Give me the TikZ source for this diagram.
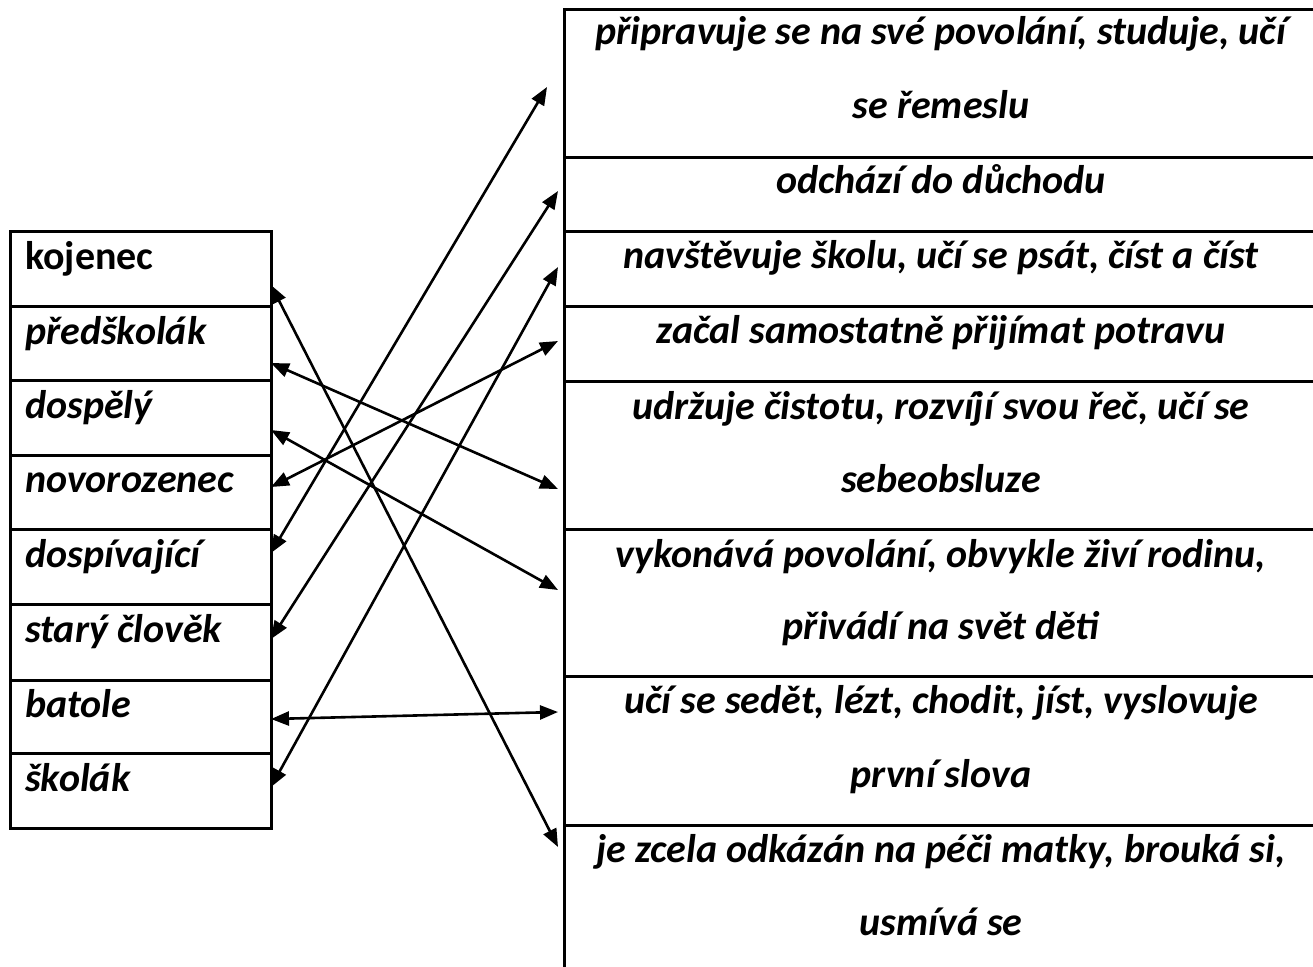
\documentclass[tikz,border=0pt]{standalone}
\usepackage{fontspec}
\setmainfont{Carlito}
\usetikzlibrary{arrows.meta}

\tikzset{
  tabline/.style={line width=3pt},
  pairarrow/.style={line width=2.6pt, {Triangle[length=18pt,width=14pt]}-{Triangle[length=18pt,width=14pt]}},
  stage/.style={anchor=base west, inner sep=0pt, font=\fontsize{40}{48}\selectfont\bfseries\itshape},
  trait/.style={anchor=base, inner sep=0pt, font=\fontsize{40}{48}\selectfont\bfseries\itshape},
}

\begin{document}
\begin{tikzpicture}[x=1pt,y=-1pt]
		%%%%% START %%%%%
		\useasboundingbox (0,0) rectangle (1313,966);
		
		% left table
		\draw[tabline] (10,231.7) rectangle (271,828.3);
		\draw[tabline] (10,306.7) -- (271,306.7);
		\draw[tabline] (10,380.7) -- (271,380.7);
		\draw[tabline] (10,455.7) -- (271,455.7);
		\draw[tabline] (10,529.3) -- (271,529.3);
		\draw[tabline] (10,604.3) -- (271,604.3);
		\draw[tabline] (10,680) -- (271,680);
		\draw[tabline] (10,753.3) -- (271,753.3);
		
		% right table (runs past the page edge)
		\draw[tabline] (564.3,975) -- (564.3,10) -- (1318,10) -- (1318,975);
		\draw[tabline] (564.3,157.7) -- (1318,157.7);
		\draw[tabline] (564.3,231.7) -- (1318,231.7);
		\draw[tabline] (564.3,306.7) -- (1318,306.7);
		\draw[tabline] (564.3,381.7) -- (1318,381.7);
		\draw[tabline] (564.3,529) -- (1318,529);
		\draw[tabline] (564.3,676.7) -- (1318,676.7);
		\draw[tabline] (564.3,825) -- (1318,825);
		
		% stages
		\node[stage, font=\fontsize{40}{48}\selectfont\bfseries] (kojenec) at (25,269) {kojenec};
		\node[stage] (predskolak) at (25,344) {předškolák};
		\node[stage] (dospely) at (25,418) {dospělý};
		\node[stage] (novorozenec) at (25,492) {novorozenec};
		\node[stage] (dospivajici) at (25,567) {dospívající};
		\node[stage] (stary) at (25,642) {starý člověk};
		\node[stage] (batole) at (25,717) {batole};
		\node[stage] (skolak) at (25,791) {školák};
		
		% traits
		\node[trait] (priprava) at (941,45) {připravuje se na své povolání, studuje, učí};
		\node[trait] (priprava2) at (941,118) {se řemeslu};
		\node[trait] (duchod) at (941,193) {odchází do důchodu};
		\node[trait] (skola) at (941,268) {navštěvuje školu, učí se psát, číst a číst};
		\node[trait] (potrava) at (941,343) {začal samostatně přijímat potravu};
		\node[trait] (cistota) at (941,419) {udržuje čistotu, rozvíjí svou řeč, učí se};
		\node[trait] (cistota2) at (941,492) {sebeobsluze};
		\node[trait] (povolani) at (941,567) {vykonává povolání, obvykle živí rodinu,};
		\node[trait] (povolani2) at (941,639) {přivádí na svět děti};
		\node[trait] (sedeni) at (941,713) {učí se sedět, lézt, chodit, jíst, vyslovuje};
		\node[trait] (sedeni2) at (941,787) {první slova};
		\node[trait] (matka) at (941,862) {je zcela odkázán na péči matky, brouká si,};
		\node[trait] (matka2) at (941,935) {usmívá se};
		
		% arrow ends
		\coordinate (kojenecR) at (271,285);
		\coordinate (predskolakR) at (271,363);
		\coordinate (dospelyR) at (271,430);
		\coordinate (novorozenecR) at (271,487);
		\coordinate (dospivajiciR) at (271,553);
		\coordinate (staryR) at (271,639);
		\coordinate (batoleR) at (271,719);
		\coordinate (skolakR) at (271,787);
		\coordinate (pripravaL) at (547,87);
		\coordinate (duchodL) at (558,191);
		\coordinate (skolaL) at (558,267);
		\coordinate (potravaL) at (558,341);
		\coordinate (cistotaL) at (558,489);
		\coordinate (povolaniL) at (558,590);
		\coordinate (sedeniL) at (558,712);
		\coordinate (matkaL) at (558,847);
		
		\draw[pairarrow] (kojenecR) -- (matkaL);
		\draw[pairarrow] (predskolakR) -- (cistotaL);
		\draw[pairarrow] (dospelyR) -- (povolaniL);
		\draw[pairarrow] (novorozenecR) -- (potravaL);
		\draw[pairarrow] (dospivajiciR) -- (pripravaL);
		\draw[pairarrow] (staryR) -- (duchodL);
		\draw[pairarrow] (batoleR) -- (sedeniL);
		\draw[pairarrow] (skolakR) -- (skolaL);
		%%%%% END %%%%%
\end{tikzpicture}
\end{document}
